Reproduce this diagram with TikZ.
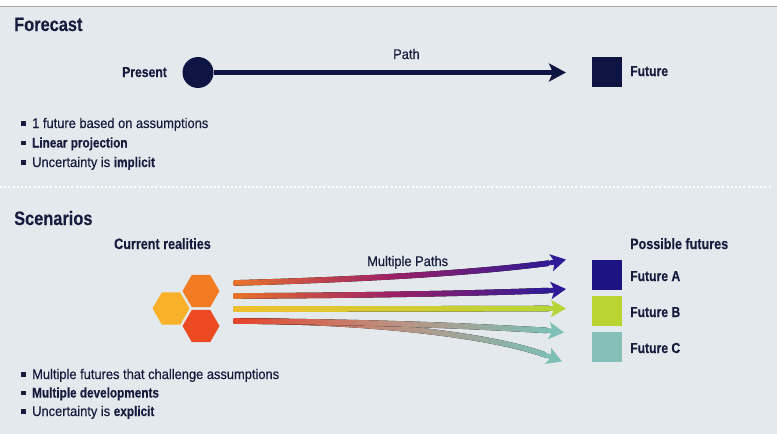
\documentclass[tikz,border=0pt]{standalone}
\usepackage{fontspec}
\setmainfont{Liberation Sans}[FakeStretch=0.92, FakeBold=0.4, BoldFeatures={FakeStretch=0.84, FakeBold=0.2}]
\usetikzlibrary{shapes.geometric, arrows.meta, calc}

\definecolor{bg}{HTML}{E4E9EE}
\definecolor{ink}{HTML}{161C3D}
\definecolor{navy}{HTML}{0E1542}
\definecolor{hexorange}{HTML}{F37B22}
\definecolor{hexamber}{HTML}{F9B12A}
\definecolor{hexred}{HTML}{EC4A22}
\definecolor{futA}{HTML}{1B1482}
\definecolor{futB}{HTML}{BAD532}
\definecolor{futC}{HTML}{86BEB8}
\definecolor{indigo}{HTML}{2E1A96}
\definecolor{magenta}{HTML}{9C2067}
\definecolor{lime}{HTML}{B8D535}
\definecolor{teal}{HTML}{7EBFB6}
\definecolor{orng}{HTML}{E9732B}
\definecolor{yel}{HTML}{F0C02E}
\definecolor{redo}{HTML}{E6442A}
\definecolor{dusk}{HTML}{BC9080}

% small square bullet in front of list items
\newcommand{\sqbul}{\rule[2.5pt]{5pt}{4.5pt}\hspace{6pt}}

% thick curved arrow whose colour runs from left to right:
% #1 start, #2 #3 controls, #4 head base, #5 tip, #6 #7 #8 colours
\newcommand{\gradarrow}[8]{%
  \fill[left color=#6, right color=#8, middle color=#7, rounded corners=1.5pt]
    ($(#1)+(0,-2.8)$) .. controls ($(#2)+(0,-2.8)$) and ($(#3)+(0,-2.8)$) .. ($(#4)+(0,-2.8)$)
    -- ($(#4)+(0,2.8)$) .. controls ($(#3)+(0,2.8)$) and ($(#2)+(0,2.8)$) .. ($(#1)+(0,2.8)$) -- cycle;
  \draw[#8, line width=5pt, -{Stealth[length=15pt,width=17pt,inset=3.5pt]}] (#4) -- (#5);
}

\tikzset{
  title/.style={anchor=base west, inner sep=0pt, text=ink, font=\fontsize{19.5}{22}\selectfont\bfseries},
  label/.style={anchor=base west, inner sep=0pt, text=ink, font=\fontsize{14.5}{17}\selectfont\bfseries},
  header/.style={anchor=base west, inner sep=0pt, text=ink, font=\fontsize{15}{17}\selectfont\bfseries},
  plain/.style={anchor=base west, inner sep=0pt, text=ink, font=\fontsize{14}{17}\selectfont},
  item/.style={anchor=base west, inner sep=0pt, text=ink, font=\fontsize{14}{17}\selectfont},
  hexa/.style={regular polygon, regular polygon sides=6, minimum size=37pt, inner sep=0pt, fill=#1},
  swatch/.style={rectangle, minimum size=30pt, inner sep=0pt, fill=#1},
}

\begin{document}
\begin{tikzpicture}[x=1pt, y=-1pt]
\useasboundingbox (0,0) rectangle (777,434);
\fill[white] (0,0) rectangle (777,434);
\fill[bg] (0,6.5) rectangle (777,434);
\draw[black!35, line width=1pt] (0,6.5) -- (777,6.5);

% dotted divider between the two panels
\coordinate (divL) at (0,187);
\coordinate (divR) at (772,187);
\draw[white, line width=2pt, dash pattern=on 2pt off 2.2pt] (divL) -- (divR);

% ---------- Forecast ----------
\node[title] (tforecast) at (14,31) {Forecast};
\node[circle, fill=navy, minimum size=31pt, inner sep=0pt] (present) at (198,72.5) {};
\node[label] (lpresent) at (122,77) {Present};
\coordinate (ftip) at (566,72.5);
\draw[navy, line width=4.6pt, -{Stealth[length=17pt,width=18pt,inset=4pt]}] (present) -- (ftip);
\node[plain] (lpath) at (393,59) {Path};
\node[swatch=navy] (future) at (607,72) {};
\node[label] (lfuture) at (630,76) {Future};

\node[item] (f1) at (21,128) {\sqbul 1 future based on assumptions};
\node[item] (f2) at (21,147.5) {\sqbul\textbf{Linear projection}};
\node[item] (f3) at (21,167) {\sqbul Uncertainty is \textbf{implicit}};

% ---------- Scenarios ----------
\node[title] (tscen) at (14,225) {Scenarios};
\node[header] (lcurrent) at (114,249) {Current realities};
\node[plain] (lpaths) at (367,266) {Multiple Paths};

\node[hexa=hexorange] (hexA) at (201,291) {};
\node[hexa=hexamber] (hexB) at (171,308.5) {};
\node[hexa=hexred] (hexC) at (201,326) {};

\coordinate (s1) at (233,283);
\coordinate (s2) at (233,296);
\coordinate (s3) at (233,309);
\coordinate (s4) at (233,321);

\coordinate (a1) at (380,279);   \coordinate (b1) at (480,272);
\coordinate (e1) at (550,263);   \coordinate (t1) at (566,259.5);
\coordinate (a2) at (400,295);   \coordinate (b2) at (480,293);
\coordinate (e2) at (550,290.5); \coordinate (t2) at (566,289);
\coordinate (a3) at (400,309);   \coordinate (b3) at (480,308.7);
\coordinate (e3) at (550,308.5); \coordinate (t3) at (566,308.5);
\coordinate (a4) at (380,322);   \coordinate (b4) at (470,326);
\coordinate (e4) at (548,330.5); \coordinate (t4) at (564,332.5);
\coordinate (a5) at (370,321);   \coordinate (b5) at (490,335);
\coordinate (e5) at (547,355.5); \coordinate (t5) at (562,361.5);

\gradarrow{s4}{a5}{b5}{e5}{t5}{redo}{dusk}{teal}
\gradarrow{s4}{a4}{b4}{e4}{t4}{redo}{dusk}{teal}
\gradarrow{s3}{a3}{b3}{e3}{t3}{yel}{yel!50!lime}{lime}
\gradarrow{s2}{a2}{b2}{e2}{t2}{orng}{magenta}{indigo}
\gradarrow{s1}{a1}{b1}{e1}{t1}{orng}{magenta}{indigo}

\node[header] (lpossible) at (630,249) {Possible futures};
\node[swatch=futA] (fa) at (607,275) {};
\node[swatch=futB] (fb) at (607,310.5) {};
\node[swatch=futC] (fc) at (607,347) {};
\node[label] (lfa) at (630,281) {Future A};
\node[label] (lfb) at (630,317) {Future B};
\node[label] (lfc) at (630,353) {Future C};

\node[item] (s1t) at (21,379) {\sqbul Multiple futures that challenge assumptions};
\node[item] (s2t) at (21,397.5) {\sqbul\textbf{Multiple developments}};
\node[item] (s3t) at (21,416) {\sqbul Uncertainty is \textbf{explicit}};
\end{tikzpicture}
\end{document}
